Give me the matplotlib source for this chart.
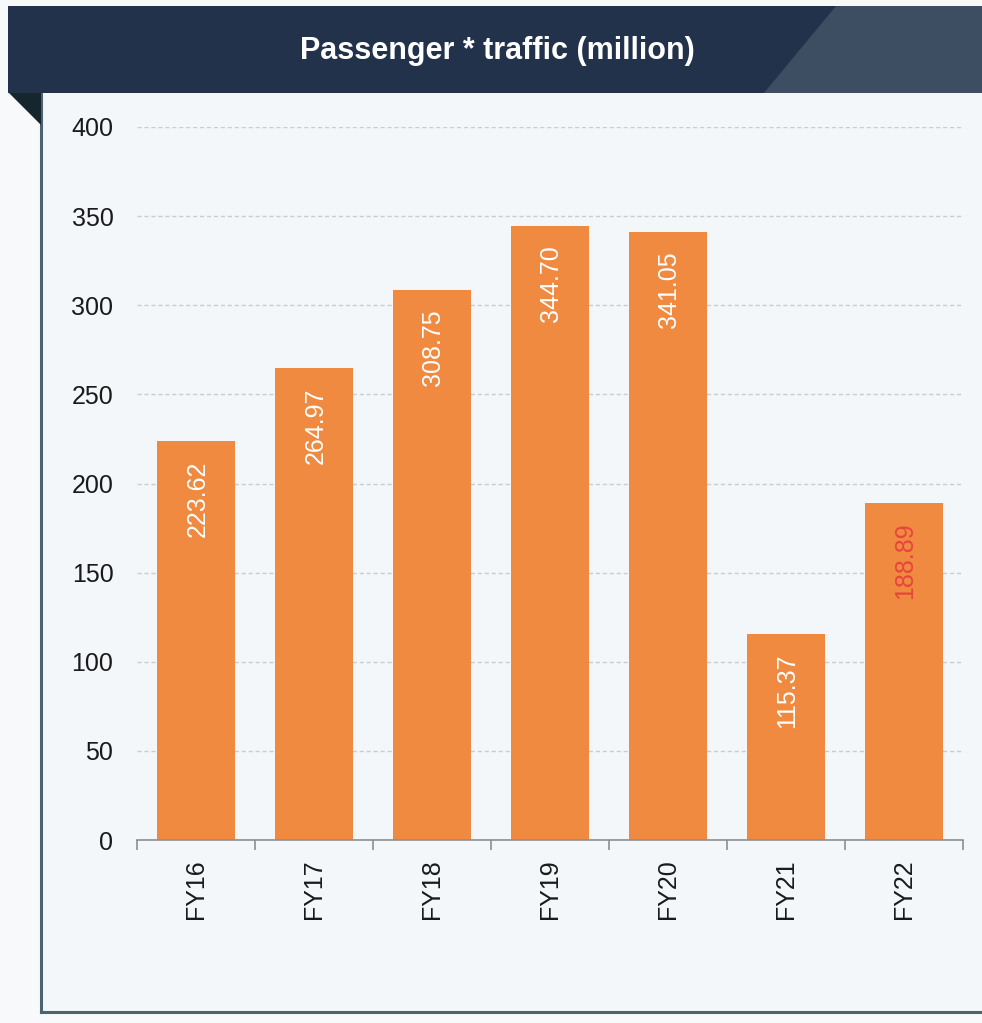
import matplotlib
matplotlib.use("Agg")
import matplotlib.pyplot as plt
from matplotlib.patches import Polygon, Rectangle
from matplotlib.lines import Line2D

plt.rcParams['font.family'] = ['Liberation Sans', 'DejaVu Sans']

categories = ["FY16", "FY17", "FY18", "FY19", "FY20", "FY21", "FY22"]
values = [223.62, 264.97, 308.75, 344.70, 341.05, 115.37, 188.89]
label_colors = ["white", "white", "white", "white", "white", "white", "#E8453C"]
yticks = [0, 50, 100, 150, 200, 250, 300, 350, 400]
title = "Passenger * traffic (million)"

W, H = 982, 1023
fig = plt.figure(figsize=(W / 100, H / 100), dpi=100)
fig.patch.set_facecolor("#F7F9FA")

def fx(px):
    return px / W

def fy(py):
    return 1 - py / H

# panel background
fig.patches.append(Rectangle((fx(41), fy(1012)), fx(982) - fx(41), fy(93) - fy(1012),
                             transform=fig.transFigure, facecolor="#F3F7F9",
                             edgecolor="none", zorder=0))
# panel border lines
fig.lines.append(Line2D([fx(41), fx(41)], [fy(93), fy(1012)], transform=fig.transFigure,
                        color="#4B6470", lw=2.2, zorder=1))
fig.lines.append(Line2D([fx(41), fx(982)], [fy(1012), fy(1012)], transform=fig.transFigure,
                        color="#4B6470", lw=2.2, zorder=1))
# header banner
fig.patches.append(Rectangle((fx(8), fy(93)), fx(982) - fx(8), fy(6) - fy(93),
                             transform=fig.transFigure, facecolor="#22324A",
                             edgecolor="none", zorder=1))
fig.patches.append(Polygon([(fx(836), fy(6)), (fx(982), fy(6)), (fx(982), fy(93)), (fx(764), fy(93))],
                           closed=True, transform=fig.transFigure, facecolor="#3E4E62",
                           edgecolor="none", zorder=1))
# fold triangle
fig.patches.append(Polygon([(fx(9), fy(93)), (fx(41), fy(93)), (fx(41), fy(125))],
                           closed=True, transform=fig.transFigure, facecolor="#16262E",
                           edgecolor="none", zorder=1))
fig.text(fx(497), fy(51), title, color="white", fontsize=22, fontweight="bold",
         ha="center", va="center", zorder=2)

ax = fig.add_axes([fx(137), fy(840), fx(963) - fx(137), fy(127) - fy(840)])
ax.set_zorder(5)
ax.set_facecolor("none")
x = list(range(len(categories)))
bars = ax.bar(x, values, width=0.66, color="#EF8A40", zorder=2)
ax.set_xlim(-0.5, len(categories) - 0.5)
ax.set_ylim(0, 400)
ax.set_yticks(yticks)
ax.set_yticklabels([str(t) for t in yticks], fontsize=18, color="#1A1A1A")
ax.tick_params(axis="y", length=0, pad=17)
ax.set_xticks(x)
ax.set_xticklabels(categories, rotation=90, fontsize=18, color="#1A1A1A")
ax.tick_params(axis="x", which="major", length=0, pad=14)
ax.set_xticks([i - 0.5 for i in range(len(categories) + 1)], minor=True)
ax.tick_params(axis="x", which="minor", length=7, width=1.2, color="#8A8F94", direction="out")
for s in ["top", "right", "left"]:
    ax.spines[s].set_visible(False)
ax.spines["bottom"].set_color("#8A8F94")
ax.spines["bottom"].set_linewidth(1.2)
ax.yaxis.grid(True, linestyle=(0, (3, 2)), color="#C8CDD2", linewidth=1.0, zorder=0)
ax.set_axisbelow(True)

for xi, v, c in zip(x, values, label_colors):
    ax.annotate(f"{v:.2f}", xy=(xi, v), xytext=(1, -14), textcoords="offset points",
                rotation=90, ha="center", va="top", fontsize=18, color=c, zorder=3)

fig.savefig("out.png", dpi=100, facecolor=fig.get_facecolor())
